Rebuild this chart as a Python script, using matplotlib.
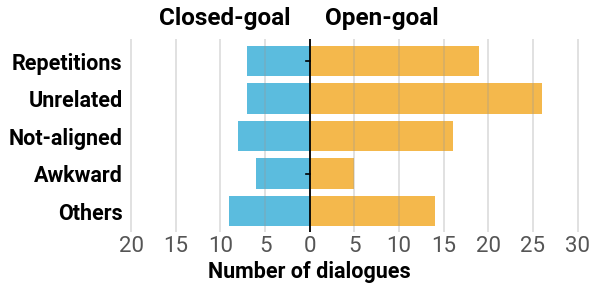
import matplotlib.pyplot as plt
import numpy as np

plt.rcParams['font.family'] = ['Roboto', 'DejaVu Sans']

categories = ['Repetitions', 'Unrelated', 'Not-aligned', 'Awkward', 'Others']
closed_goal = [7, 7, 8, 6, 9]
open_goal = [19, 26, 16, 5, 14]
marked = [True, False, False, True, False]
ticks = [-20, -15, -10, -5, 0, 5, 10, 15, 20, 25, 30]

fig = plt.figure(figsize=(5.97, 2.89), dpi=100)
ax = fig.add_axes([0.2078, 0.197, 0.779, 0.6696])

y = np.arange(len(categories))
ax.barh(y, [-v for v in closed_goal], height=0.82, color='#5bbcde', zorder=2)
ax.barh(y, open_goal, height=0.82, color='#f4b84c', zorder=2)
ax.axvline(0, color='black', lw=1.3, zorder=4)
for yi, m in zip(y, marked):
    if m:
        ax.plot([-0.45, 0], [yi, yi], color='black', lw=1.2, zorder=4)

xmin, xmax = -20.8, 31.3
ax.set_xlim(xmin, xmax)
ax.set_ylim(4.56, -0.6)
ax.set_xticks(ticks)
ax.set_xticklabels([str(abs(t)) for t in ticks], fontsize=16, color='#555555')
ax.set_yticks(y)
ax.set_yticklabels(categories, fontsize=15.5, fontweight='bold')
ax.tick_params(length=0)
ax.tick_params(axis='y', pad=1)
ax.tick_params(axis='x', pad=3)
ax.xaxis.grid(True, color='#999999', alpha=0.35, lw=1.2, zorder=3)
ax.set_axisbelow(False)
for s in ax.spines.values():
    s.set_visible(False)

ax.set_xlabel('Number of dialogues', fontsize=15.5, fontweight='bold')
ax.xaxis.set_label_coords(-xmin / (xmax - xmin), -0.152)
ax.text(-2.1, -0.82, 'Closed-goal', ha='right', va='bottom', fontsize=17.5, fontweight='bold')
ax.text(1.7, -0.82, 'Open-goal', ha='left', va='bottom', fontsize=17.5, fontweight='bold')

fig.savefig('out.png', dpi=100)
